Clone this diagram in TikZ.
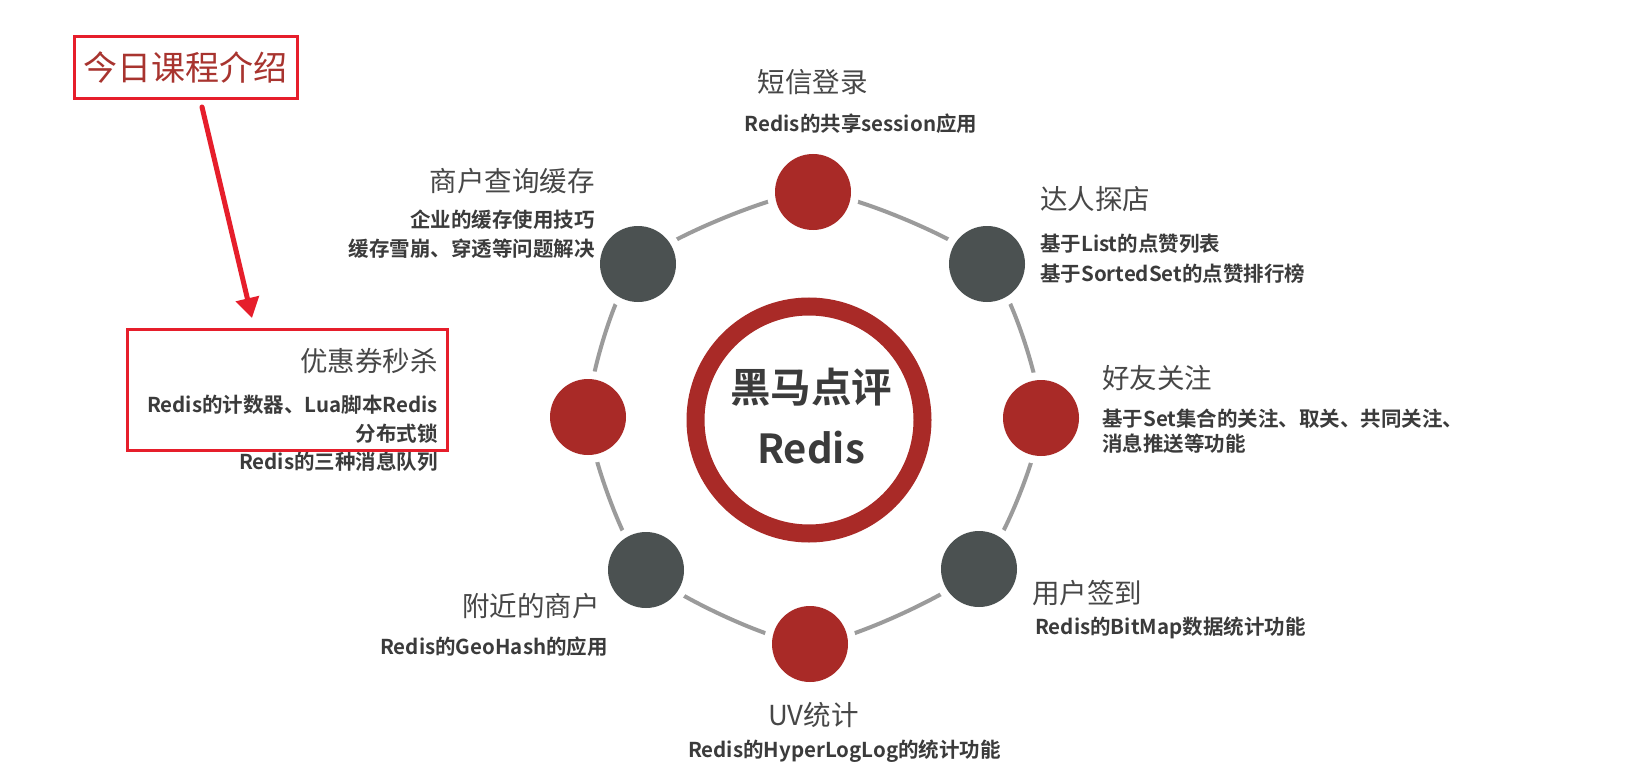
\documentclass[tikz,border=0pt]{standalone}
\usepackage{fontspec}
\usetikzlibrary{arrows.meta}
\newfontfamily\cjkb{Noto Sans CJK SC Bold}
\newfontfamily\song{Noto Sans CJK SC}
\definecolor{cred}{HTML}{A92A27}
\definecolor{cdark}{HTML}{4B5151}
\definecolor{carc}{HTML}{9B9B9B}
\definecolor{txt}{HTML}{3B3B3B}
\definecolor{ttltxt}{HTML}{474747}
\definecolor{boxred}{HTML}{E61E2B}
\definecolor{ttl}{HTML}{A8342F}
\tikzset{
  ttlfont/.style={font=\song\fontsize{27.5}{30}\selectfont, text=ttltxt, inner sep=0pt},
  subfont/.style={font=\cjkb\fontsize{20.5}{30}\selectfont, text=txt, inner sep=0pt},
  dot/.style={circle, inner sep=0pt, outer sep=0pt, minimum size=76pt,
    preaction={draw=white, line width=16pt}},
  reddot/.style={dot, fill=cred},
  darkdot/.style={dot, fill=cdark},
}
\begin{document}
\begin{tikzpicture}[x=1pt,y=-1pt]
\useasboundingbox (0,0) rectangle (1643,778);
\fill[white] (0,0) rectangle (1643,778);

% circle centres
\coordinate (p1) at (813,192);
\coordinate (p2) at (638,264);
\coordinate (p3) at (987,264);
\coordinate (p4) at (588,417);
\coordinate (p5) at (1041,418);
\coordinate (p6) at (646,570);
\coordinate (p7) at (979,569);
\coordinate (p8) at (810,644);

\draw[carc, line width=4pt] plot[smooth cycle, tension=0.375]
  coordinates {(p1) (p3) (p5) (p7) (p8) (p6) (p4) (p2)};

\node[reddot]  (c1) at (p1) {};
\node[darkdot] (c2) at (p2) {};
\node[darkdot] (c3) at (p3) {};
\node[reddot]  (c4) at (p4) {};
\node[reddot]  (c5) at (p5) {};
\node[darkdot] (c6) at (p6) {};
\node[darkdot] (c7) at (p7) {};
\node[reddot]  (c8) at (p8) {};

% hub ring
\node[circle, draw=cred, line width=18pt, minimum size=227pt, inner sep=0pt] (hub) at (809,420) {};
\node[font=\cjkb\fontsize{40.5}{44}\selectfont, text=txt, inner sep=0pt] (hub1) at (811,387.5) {黑马点评};
\node[font=\cjkb\fontsize{40}{44}\selectfont, text=txt, inner sep=0pt] (hub2) at (811,447.5) {Redis};

% top
\node[ttlfont] (t1) at (812.5,82.5) {短信登录};
\node[subfont] (s1) at (861,124) {Redis的共享session应用};

% upper left
\node[ttlfont, anchor=east] (t2) at (595,181) {商户查询缓存};
\node[subfont, anchor=east] (s2a) at (595,219.5) {企业的缓存使用技巧};
\node[subfont, anchor=east] (s2b) at (595,249) {缓存雪崩、穿透等问题解决};

% upper right
\node[ttlfont, anchor=west] (t3) at (1040,199.5) {达人探店};
\node[subfont, anchor=west] (s3a) at (1040,243.5) {基于List的点赞列表};
\node[subfont, anchor=west] (s3b) at (1040,274) {基于SortedSet的点赞排行榜};

% right
\node[ttlfont, anchor=west] (t5) at (1102,378.5) {好友关注};
\node[subfont, anchor=west] (s5a) at (1102,419) {基于Set集合的关注、取关、共同关注、};
\node[subfont, anchor=west] (s5b) at (1102,443.5) {消息推送等功能};

% left
\node[ttlfont, anchor=east] (t4) at (438,361.5) {优惠券秒杀};
\node[subfont, anchor=east] (s4a) at (438,404.5) {Redis的计数器、Lua脚本Redis};
\node[subfont, anchor=east] (s4b) at (438,433.5) {分布式锁};
\node[subfont, anchor=east] (s4c) at (438,461.5) {Redis的三种消息队列};

% lower left
\node[ttlfont, anchor=east] (t6) at (600,606.5) {附近的商户};
\node[subfont, anchor=east] (s6) at (608,646.5) {Redis的GeoHash的应用};

% lower right
\node[ttlfont, anchor=west] (t7) at (1032,593.5) {用户签到};
\node[subfont, anchor=west] (s7) at (1035,627.5) {Redis的BitMap数据统计功能};

% bottom
\node[ttlfont] (t8) at (813.5,715) {UV统计};
\node[subfont] (s8) at (844.5,751.5) {Redis的HyperLogLog的统计功能};

% annotation
\node[draw=boxred, line width=3pt, minimum width=223pt, minimum height=62pt, inner sep=0pt,
      font=\song\fontsize{34}{36}\selectfont, text=ttl] (intro) at (185.5,68) {今日课程介绍};
\node[draw=boxred, line width=3pt, minimum width=320pt, minimum height=121pt, inner sep=0pt] (mark) at (287,389.5) {};
\coordinate (a1) at (202,107);
\coordinate (a2) at (252,318);
\draw[boxred, line width=5pt, line cap=round, -{Triangle[length=20pt, width=23pt]}] (a1) -- (a2);
\end{tikzpicture}
\end{document}
